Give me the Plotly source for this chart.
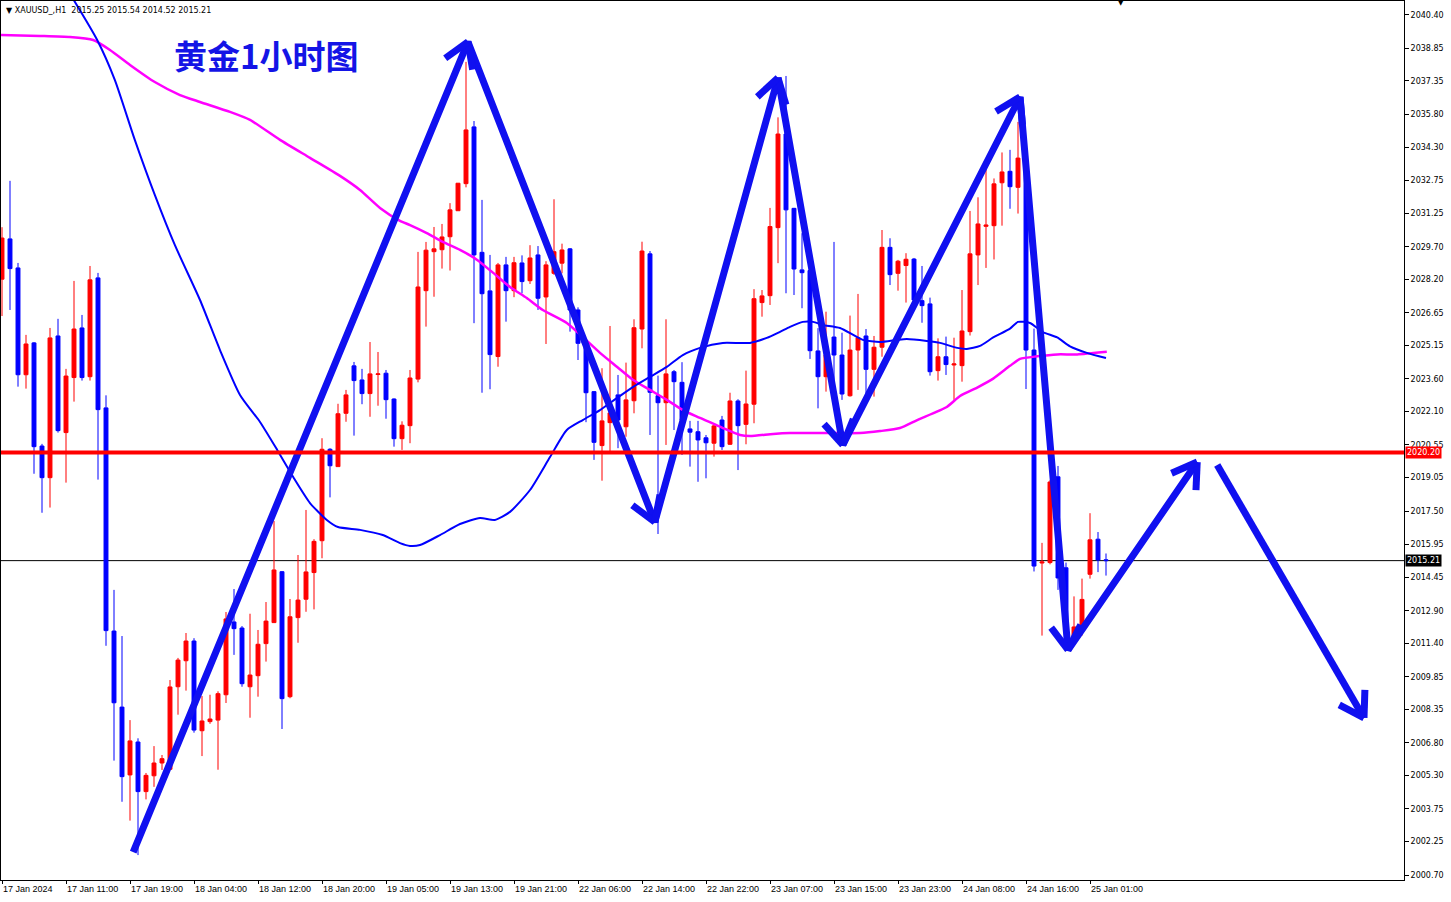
import math
import plotly.graph_objects as go

# ---------------- data ----------------
opens = [2028.2, 2030.06, 2028.72, 2023.79, 2025.26, 2020.50, 2019.04, 2025.58, 2021.12, 2023.66,
         2025.95, 2023.70, 2028.26, 2022.26, 2011.96, 2008.45, 2005.32, 2006.84, 2004.55, 2005.28,
         2005.87, 2005.58, 2009.39, 2010.59, 2011.50, 2007.36, 2007.78, 2007.85, 2009.02, 2012.38,
         2012.10, 2009.39, 2009.90, 2011.38, 2012.35, 2014.70, 2008.93, 2012.58, 2013.43, 2014.66,
         2016.13, 2020.35, 2019.55, 2022.01, 2024.20, 2023.55, 2022.92, 2023.80, 2023.86, 2022.67,
         2020.84, 2021.44, 2023.59, 2027.67, 2029.47, 2029.56, 2030.16, 2031.36, 2032.61, 2035.23,
         2029.44, 2027.66, 2024.63, 2028.86, 2027.67, 2028.95, 2028.13, 2029.32, 2027.38, 2028.47,
         2028.94, 2029.60, 2026.78, 2025.20, 2023.01, 2020.52, 2021.58, 2022.86, 2021.39, 2022.59,
         2025.90, 2029.37, 2022.82, 2022.50, 2023.93, 2023.44, 2021.29, 2021.16, 2020.88, 2020.63,
         2021.70, 2020.58, 2022.58, 2021.50, 2022.43, 2027.12, 2027.44, 2030.58, 2034.90, 2031.47,
         2028.63, 2028.60, 2024.89, 2023.70, 2025.53, 2024.70, 2022.82, 2024.93, 2025.58, 2024.04,
         2025.06, 2029.67, 2028.47, 2028.83, 2029.13, 2027.21, 2027.06, 2023.98, 2024.62, 2024.24,
         2024.21, 2025.78, 2029.32, 2030.64, 2030.67, 2032.65, 2033.18, 2032.44, 2033.70, 2024.93,
         2015.10, 2015.12, 2019.08, 2014.88, 2011.59, 2012.16, 2014.58, 2016.20, 2015.25]
highs = [2030.6, 2032.74, 2028.95, 2025.63, 2025.30, 2020.60, 2025.95, 2026.37, 2024.06, 2028.12,
         2026.55, 2028.81, 2028.49, 2022.84, 2013.86, 2011.73, 2007.85, 2007.01, 2005.41, 2006.65,
         2006.24, 2009.70, 2010.72, 2011.87, 2011.63, 2008.96, 2009.02, 2009.18, 2012.84, 2013.90,
         2012.19, 2012.76, 2012.01, 2013.30, 2017.04, 2014.73, 2013.44, 2015.47, 2017.55, 2016.20,
         2020.86, 2020.40, 2022.45, 2023.09, 2024.38, 2024.06, 2025.30, 2024.84, 2024.01, 2022.70,
         2021.64, 2024.01, 2029.46, 2029.92, 2030.61, 2030.75, 2031.71, 2032.64, 2038.23, 2035.50,
         2031.86, 2029.32, 2028.95, 2029.23, 2029.23, 2029.30, 2029.77, 2029.73, 2029.03, 2031.89,
         2029.84, 2029.64, 2026.90, 2025.24, 2023.04, 2024.09, 2026.04, 2023.78, 2024.35, 2026.35,
         2029.93, 2029.50, 2023.75, 2026.35, 2024.01, 2024.37, 2021.66, 2021.66, 2021.01, 2021.55,
         2021.89, 2022.96, 2022.66, 2023.98, 2027.74, 2027.70, 2031.49, 2035.67, 2037.58, 2031.49,
         2030.32, 2028.86, 2025.94, 2026.70, 2029.92, 2025.73, 2026.52, 2027.52, 2025.90, 2025.58,
         2030.47, 2030.09, 2029.09, 2029.40, 2029.18, 2028.81, 2027.35, 2025.47, 2025.55, 2025.50,
         2027.70, 2031.35, 2031.98, 2033.26, 2032.85, 2034.05, 2034.17, 2035.46, 2033.94, 2025.92,
         2016.03, 2018.92, 2019.58, 2015.12, 2013.56, 2014.38, 2017.40, 2016.53, 2015.54]
lows = [2026.5, 2026.78, 2023.24, 2023.15, 2019.22, 2017.42, 2017.66, 2021.12, 2018.81, 2022.55,
        2023.52, 2023.52, 2018.95, 2011.28, 2005.98, 2004.08, 2003.21, 2001.62, 2004.19, 2004.77,
        2005.55, 2005.55, 2008.10, 2009.21, 2007.27, 2006.19, 2007.68, 2005.56, 2008.64, 2010.86,
        2009.39, 2007.96, 2008.93, 2010.55, 2012.33, 2007.44, 2008.86, 2011.42, 2012.85, 2012.96,
        2015.32, 2018.13, 2019.55, 2021.62, 2020.98, 2022.43, 2021.85, 2022.36, 2021.76, 2020.47,
        2020.32, 2020.63, 2023.44, 2026.01, 2027.39, 2028.69, 2028.60, 2031.36, 2032.44, 2026.17,
        2022.96, 2023.12, 2024.16, 2026.24, 2027.37, 2027.55, 2027.98, 2026.78, 2025.21, 2028.40,
        2028.47, 2025.78, 2024.47, 2021.60, 2019.86, 2018.90, 2020.24, 2020.40, 2020.93, 2022.01,
        2025.01, 2021.01, 2016.44, 2020.55, 2021.24, 2020.09, 2019.55, 2018.85, 2019.01, 2020.01,
        2020.32, 2020.55, 2019.39, 2020.58, 2021.55, 2026.47, 2027.01, 2028.94, 2027.55, 2027.47,
        2026.86, 2024.52, 2022.24, 2023.01, 2023.55, 2022.63, 2022.78, 2023.09, 2022.93, 2022.78,
        2024.62, 2027.93, 2027.67, 2027.12, 2027.01, 2026.19, 2023.75, 2023.52, 2023.78, 2022.63,
        2023.47, 2025.60, 2027.93, 2028.72, 2029.11, 2030.67, 2031.45, 2031.23, 2023.13, 2014.71,
        2011.75, 2015.04, 2013.86, 2011.75, 2011.41, 2011.75, 2014.38, 2014.68, 2014.52]
closes = [2030.1, 2028.69, 2023.79, 2025.21, 2020.47, 2019.04, 2025.49, 2021.21, 2023.73, 2025.90,
          2023.66, 2028.17, 2022.18, 2011.98, 2008.65, 2005.24, 2006.89, 2004.55, 2005.30, 2005.87,
          2006.07, 2009.38, 2010.62, 2011.50, 2007.39, 2007.81, 2007.90, 2009.07, 2012.52, 2012.07,
          2009.53, 2009.93, 2011.35, 2012.42, 2014.78, 2008.84, 2012.62, 2013.39, 2014.69, 2016.10,
          2020.35, 2019.59, 2021.99, 2022.86, 2023.52, 2022.92, 2023.83, 2023.83, 2022.64, 2020.84,
          2021.46, 2023.64, 2027.84, 2029.54, 2029.60, 2030.15, 2031.40, 2032.63, 2035.09, 2029.32,
          2027.53, 2024.72, 2028.86, 2027.67, 2028.96, 2028.09, 2029.18, 2027.32, 2028.86, 2029.47,
          2029.55, 2026.78, 2025.24, 2022.96, 2020.67, 2021.66, 2022.03, 2021.70, 2022.63, 2025.96,
          2029.50, 2022.98, 2022.50, 2023.83, 2023.47, 2021.70, 2021.14, 2020.78, 2020.65, 2021.43,
          2020.47, 2022.58, 2021.44, 2022.44, 2027.30, 2027.43, 2030.63, 2034.90, 2031.40, 2028.67,
          2028.50, 2024.90, 2023.70, 2024.70, 2024.70, 2022.90, 2024.93, 2025.50, 2024.04, 2025.06,
          2029.67, 2028.41, 2029.03, 2029.12, 2027.24, 2026.98, 2023.93, 2024.62, 2024.26, 2024.29,
          2025.81, 2029.37, 2030.75, 2030.70, 2032.60, 2033.15, 2032.47, 2033.79, 2024.93, 2014.96,
          2015.15, 2018.84, 2014.41, 2012.24, 2012.15, 2013.42, 2016.17, 2015.24, 2015.21]

time_labels = ["17 Jan 2024", "17 Jan 11:00", "17 Jan 19:00", "18 Jan 04:00", "18 Jan 12:00",
               "18 Jan 20:00", "19 Jan 05:00", "19 Jan 13:00", "19 Jan 21:00", "22 Jan 06:00",
               "22 Jan 14:00", "22 Jan 22:00", "23 Jan 07:00", "23 Jan 15:00", "23 Jan 23:00",
               "24 Jan 08:00", "24 Jan 16:00", "25 Jan 01:00"]
label_bars = list(range(0, 8 * len(time_labels), 8))

price_ticks = [2040.40, 2038.85, 2037.35, 2035.80, 2034.30, 2032.75, 2031.25, 2029.70, 2028.20,
               2026.65, 2025.15, 2023.60, 2022.10, 2020.55, 2019.05, 2017.50, 2015.95, 2014.45,
               2012.90, 2011.40, 2009.85, 2008.35, 2006.80, 2005.30, 2003.75, 2002.25, 2000.70]

# moving averages (bar index, price)
ma_fast_x = [8.5, 11.9, 14.1, 16.6, 19.1, 21.6, 24.75, 27.25, 29.75, 32.25, 34.4, 36.4, 38.5, 40.6,
             42.0, 44.75, 47.6, 49.75, 51.0, 52.25, 54.75, 57.25, 59.75, 61.6, 63.5, 66.0, 68.5,
             70.6, 72.6, 74.75, 76.9, 78.9, 81.0, 83.1, 85.1, 87.25, 90.1, 93.5, 95.6, 97.25, 98.5,
             100.1, 101.4, 102.6, 104.75, 107.6, 109.75, 111.9, 113.1, 115.6, 117.25, 119.4, 120.6,
             122.25, 123.9, 126.0, 127.0, 128.5, 130.1, 131.9, 133.5, 135.6, 138.0]
ma_fast_y = [2041.37, 2039.24, 2037.40, 2034.63, 2032.09, 2029.78, 2027.24, 2024.93, 2022.86,
             2021.61, 2020.32, 2019.07, 2017.87, 2017.09, 2016.76, 2016.63, 2016.39, 2016.02,
             2015.89, 2015.93, 2016.39, 2016.90, 2017.18, 2017.09, 2017.46, 2018.47, 2019.99,
             2021.24, 2021.70, 2022.16, 2022.72, 2023.23, 2023.69, 2024.15, 2024.70, 2025.03,
             2025.26, 2025.26, 2025.49, 2025.77, 2026.00, 2026.23, 2026.23, 2026.09, 2025.95,
             2025.40, 2025.30, 2025.40, 2025.44, 2025.35, 2025.26, 2025.03, 2024.98, 2025.12,
             2025.51, 2025.92, 2026.23, 2026.18, 2025.76, 2025.51, 2025.10, 2024.80, 2024.56]
ma_slow_x = [-0.25, 4.75, 8.5, 11.4, 13.5, 16.0, 19.1, 22.25, 24.75, 28.5, 31.0, 34.75, 38.5, 42.25,
             44.75, 47.25, 49.75, 51.0, 53.1, 55.1, 57.25, 59.4, 61.4, 63.5, 65.6, 67.6, 70.6,
             72.6, 74.75, 76.9, 78.9, 81.0, 83.1, 85.1, 87.25, 90.1, 92.25, 93.5, 96.4, 98.5,
             103.5, 107.25, 109.75, 112.25, 114.4, 118.1, 119.75, 121.9, 123.9, 126.0, 127.25,
             129.4, 131.9, 134.4, 138.1]
ma_slow_y = [2039.47, 2039.43, 2039.38, 2039.24, 2038.78, 2038.09, 2037.30, 2036.70, 2036.38,
             2035.92, 2035.55, 2034.63, 2033.80, 2032.97, 2032.32, 2031.49, 2030.89, 2030.70,
             2030.33, 2029.92, 2029.55, 2029.09, 2028.49, 2027.84, 2027.33, 2026.78, 2026.18,
             2025.53, 2024.80, 2024.15, 2023.55, 2023.09, 2022.63, 2022.16, 2021.80, 2021.33,
             2021.01, 2020.96, 2021.06, 2021.10, 2021.10, 2021.10, 2021.19, 2021.33, 2021.70,
             2022.30, 2022.81, 2023.20, 2023.61, 2024.20, 2024.52, 2024.64, 2024.73, 2024.73,
             2024.85]

support_level = 2020.20
last_price = 2015.21

# hand-drawn arrow path (bar index, price)
path_x = [16.4, 58.25, 81.6, 97.0, 105.1, 127.25, 133.25, 149.4]
path_y = [2001.76, 2039.15, 2016.99, 2037.49, 2020.55, 2036.61, 2011.09, 2019.76]
proj_x = [151.9, 170.25]
proj_y = [2019.62, 2007.95]

title_text = "黄金1小时图"
info_text = "XAUUSD_,H1  2015.25 2015.54 2014.52 2015.21"

# ---------------- figure ----------------
W, H = 1451, 902
ML, MR, MT, MB = 1, 47, 1, 22
XR = [-0.125, 175.25]
YR = [2000.47, 2041.04]
sx = (W - ML - MR) / (XR[1] - XR[0])
sy = (H - MT - MB) / (YR[1] - YR[0])

fig = go.Figure()

fig.add_trace(go.Candlestick(
    x=list(range(len(opens))), open=opens, high=highs, low=lows, close=closes,
    increasing=dict(line=dict(color="#FF0000", width=1), fillcolor="#FF0000"),
    decreasing=dict(line=dict(color="#0000FF", width=1), fillcolor="#0000FF"),
    whiskerwidth=0, hoverinfo="skip", showlegend=False))

fig.add_trace(go.Scatter(x=ma_slow_x, y=ma_slow_y, mode="lines",
                         line=dict(color="#FF00FF", width=2.5, shape="spline", smoothing=0.6),
                         hoverinfo="skip", showlegend=False))
fig.add_trace(go.Scatter(x=ma_fast_x, y=ma_fast_y, mode="lines",
                         line=dict(color="#0000FF", width=2, shape="spline", smoothing=0.6),
                         hoverinfo="skip", showlegend=False))


def heads(xs, ys, tips):
    hx, hy = [], []
    L = 28
    for k in tips:
        px, py = xs[k - 1], ys[k - 1]
        tx, ty = xs[k], ys[k]
        dx, dy = (tx - px) * sx, (ty - py) * sy
        n = math.hypot(dx, dy)
        ux, uy = dx / n, dy / n
        for a in (math.radians(32), -math.radians(32)):
            rx = ux * math.cos(a) - uy * math.sin(a)
            ry = ux * math.sin(a) + uy * math.cos(a)
            hx += [tx, tx - L * rx / sx, None]
            hy += [ty, ty - L * ry / sy, None]
    return hx, hy


arrow_col = "#1010F0"
fig.add_trace(go.Scatter(x=path_x, y=path_y, mode="lines",
                         line=dict(color=arrow_col, width=7), hoverinfo="skip", showlegend=False))
hx, hy = heads(path_x, path_y, range(1, len(path_x)))
fig.add_trace(go.Scatter(x=hx, y=hy, mode="lines",
                         line=dict(color=arrow_col, width=7), hoverinfo="skip", showlegend=False))
fig.add_trace(go.Scatter(x=proj_x, y=proj_y, mode="lines",
                         line=dict(color=arrow_col, width=7), hoverinfo="skip", showlegend=False))
hx2, hy2 = heads(proj_x, proj_y, [1])
fig.add_trace(go.Scatter(x=hx2, y=hy2, mode="lines",
                         line=dict(color=arrow_col, width=7), hoverinfo="skip", showlegend=False))

fig.add_shape(type="line", xref="paper", x0=0, x1=1, yref="y", y0=support_level, y1=support_level,
              line=dict(color="#FF0000", width=4), layer="above")
fig.add_shape(type="line", xref="paper", x0=0, x1=1, yref="y", y0=last_price, y1=last_price,
              line=dict(color="#000000", width=1), layer="below")

axis_font = dict(family="DejaVu Sans", size=8, color="#000000")
fig.add_annotation(xref="paper", x=1, xanchor="left", xshift=1, yref="y", y=support_level,
                   text=f"{support_level:.2f}", showarrow=False, bgcolor="#FF0000",
                   font=dict(family="DejaVu Sans", size=8, color="#FFFFFF"), borderpad=1)
fig.add_annotation(xref="paper", x=1, xanchor="left", xshift=1, yref="y", y=last_price,
                   text=f"{last_price:.2f}", showarrow=False, bgcolor="#000000",
                   font=dict(family="DejaVu Sans", size=8, color="#FFFFFF"), borderpad=1)

fig.add_annotation(xref="paper", yref="paper", x=0.002, y=0.997, xanchor="left", yanchor="top",
                   text="▼ " + info_text, showarrow=False, font=axis_font)
fig.add_annotation(xref="paper", yref="paper", x=0.7985, y=1.004, xanchor="center", yanchor="top",
                   text="▼", showarrow=False, font=dict(family="DejaVu Sans", size=7, color="#000"))
fig.add_annotation(xref="paper", yref="paper", x=0.189, y=0.9386, xanchor="center", yanchor="middle",
                   text="<b>" + title_text + "</b>", showarrow=False,
                   font=dict(family="Noto Sans CJK SC", size=33, color="#1414E6"))

fig.update_layout(
    width=W, height=H, margin=dict(l=ML, r=MR, t=MT, b=MB),
    paper_bgcolor="#FFFFFF", plot_bgcolor="#FFFFFF", showlegend=False, hovermode=False,
    xaxis=dict(range=XR, showgrid=False, zeroline=False, rangeslider=dict(visible=False),
               tickmode="array", tickvals=label_bars, ticktext=time_labels,
               ticks="outside", ticklen=3, tickcolor="#000", ticklabelposition="outside right",
               tickfont=dict(family="Liberation Sans", size=9, color="#000"),
               showline=True, linecolor="#000", linewidth=1, mirror=True),
    yaxis=dict(range=YR, side="right", showgrid=False, zeroline=False,
               tickmode="array", tickvals=price_ticks, ticktext=[f"{v:.2f}" for v in price_ticks],
               ticks="outside", ticklen=4, tickcolor="#000", tickfont=axis_font,
               showline=True, linecolor="#000", linewidth=1, mirror=True),
)

fig.write_html("out.html", config={"displayModeBar": False, "staticPlot": True},
               post_script="document.body.style.margin='0';document.body.style.overflow='hidden';")
